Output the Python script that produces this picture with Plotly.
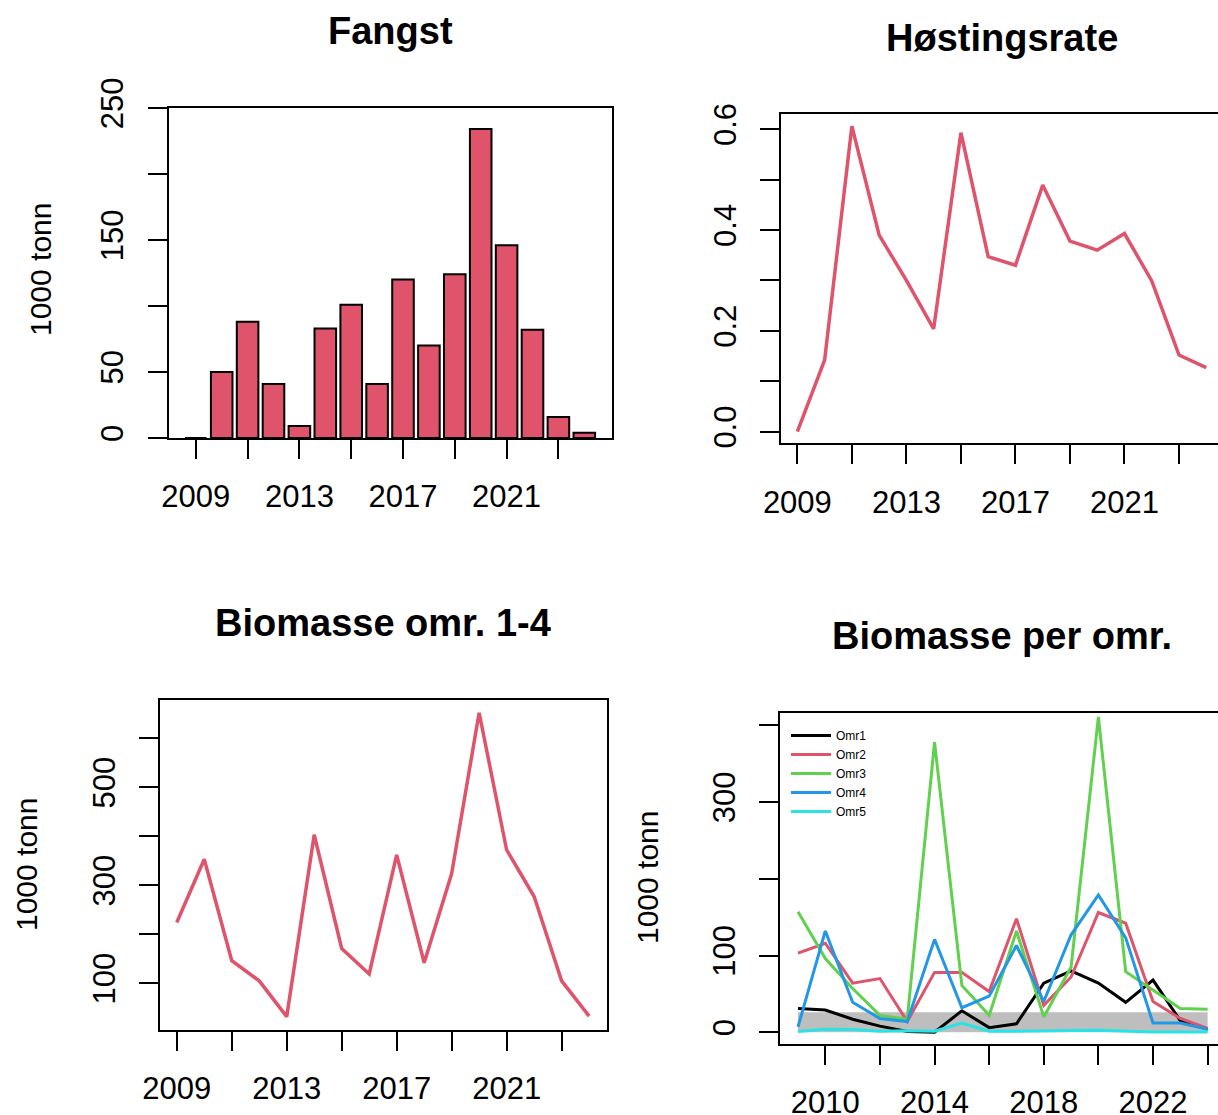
import plotly.graph_objects as go

# ---------------- data ----------------
years = list(range(2009, 2025))

fangst = [0, 50, 88, 41, 9, 83, 101, 41, 120, 70, 124, 234, 146, 82, 16, 4]
hostingsrate = [0.0, 0.142, 0.606, 0.39, 0.30, 0.204, 0.593, 0.347, 0.33, 0.489,
                0.378, 0.36, 0.393, 0.299, 0.152, 0.127]
biomasse_1_4 = [224, 353, 146, 105, 32, 403, 171, 119, 362, 142, 324, 652, 372,
                277, 105, 33]

omr1 = [31, 29, 17, 8, 1, 0, 28, 6, 11, 64, 80, 64, 39, 68, 15, 4]
omr2 = [103, 116, 64, 70, 14, 78, 78, 53, 148, 35, 72, 156, 142, 40, 18, 5]
omr3 = [157, 96, 57, 22, 17, 378, 61, 22, 132, 20, 85, 411, 79, 55, 31, 30]
omr4 = [7, 132, 39, 18, 14, 121, 32, 47, 113, 40, 127, 179, 123, 12, 12, 4]
omr5 = [1, 4, 3.5, 1.3, 2, 1.3, 12, 1.3, 1.3, 1.3, 2.2, 2.6, 1.3, 0.4, 0.4, 0.4]
omr_names = ["Omr1", "Omr2", "Omr3", "Omr4", "Omr5"]

band_years = [2009, 2024]
band_low = 0
band_high = 26

titles = ["Fangst", "Høstingsrate", "Biomasse omr. 1-4", "Biomasse per omr."]
ytitle = "1000 tonn"

ticks_odd = list(range(2009, 2024, 2))
labels_odd = ["2009", "", "2013", "", "2017", "", "2021", ""]
ticks_even = list(range(2010, 2025, 2))
labels_even = ["2010", "", "2014", "", "2018", "", "2022", ""]

y1_ticks = [0, 50, 100, 150, 200, 250]
y1_labels = ["0", "50", "", "150", "", "250"]
y2_ticks = [0.0, 0.1, 0.2, 0.3, 0.4, 0.5, 0.6]
y2_labels = ["0.0", "", "0.2", "", "0.4", "", "0.6"]
y3_ticks = [100, 200, 300, 400, 500, 600]
y3_labels = ["100", "", "300", "", "500", ""]
y4_ticks = [0, 100, 200, 300, 400]
y4_labels = ["0", "100", "", "300", ""]

# ---------------- styling ----------------
RED = "#DF536B"
COLS = ["#000000", "#DF536B", "#61D04F", "#2297E6", "#28E2E5"]
FONT = "Liberation Sans, Arial, sans-serif"
W, H = 1218, 1115

fig = go.Figure()

fig.add_trace(go.Bar(x=years, y=fangst, width=1 / 1.2, marker=dict(color=RED, line=dict(color="black", width=2)),
                     xaxis="x", yaxis="y", showlegend=False))
fig.add_trace(go.Scatter(x=years, y=hostingsrate, mode="lines", line=dict(color=RED, width=3.5),
                         xaxis="x2", yaxis="y2", showlegend=False))
fig.add_trace(go.Scatter(x=years, y=biomasse_1_4, mode="lines", line=dict(color=RED, width=3.5),
                         xaxis="x3", yaxis="y3", showlegend=False))
fig.add_trace(go.Scatter(x=[band_years[0], band_years[1], band_years[1], band_years[0]],
                         y=[band_low, band_low, band_high, band_high], fill="toself",
                         fillcolor="#BEBEBE", mode="lines", line=dict(width=0, color="#BEBEBE"),
                         xaxis="x4", yaxis="y4", showlegend=False, hoverinfo="skip"))
for name, vals, col in zip(omr_names, [omr1, omr2, omr3, omr4, omr5], COLS):
    fig.add_trace(go.Scatter(x=years, y=vals, mode="lines", name=name, line=dict(color=col, width=3),
                             xaxis="x4", yaxis="y4", showlegend=True))


def px_x(a, b):
    return [a / W, b / W]


def px_y(top, bottom):
    return [1 - bottom / H, 1 - top / H]


axis_common = dict(showline=True, linecolor="black", linewidth=2, ticks="outside", ticklen=19,
                   tickwidth=2, tickcolor="black", showgrid=False, zeroline=False, automargin=False,
                   tickfont=dict(family=FONT, size=31, color="black"))

def xa(domain, rng, anchor, tv, tt):
    d = dict(axis_common)
    d.update(domain=domain, range=rng, anchor=anchor, tickmode="array", tickvals=tv, ticktext=tt,
             mirror=True, ticklabelstandoff=11)
    return d

def ya(domain, rng, anchor, tv, tt, mirror):
    d = dict(axis_common)
    d.update(domain=domain, range=rng, anchor=anchor, tickmode="array", tickvals=tv, ticktext=tt,
             mirror=mirror, tickangle=-90, ticklabelstandoff=12)
    return d

p1x, p1y = px_x(168.6, 611.5), px_y(108, 438)
p2x, p2y = px_x(781, 1218), px_y(114, 443.3)
p3x, p3y = px_x(160, 606.7), px_y(700, 1030)
p4x, p4y = px_x(780, 1218), px_y(712.8, 1044)

fig.update_layout(
    template="none",
    width=W, height=H, margin=dict(l=0, r=0, t=0, b=0, autoexpand=False),
    paper_bgcolor="white", plot_bgcolor="white",
    font=dict(family=FONT, color="black"),
    xaxis=xa(p1x, [2007.95, 2025.05], "y", ticks_odd, labels_odd),
    yaxis=ya(p1y, [0, 250], "x", y1_ticks, y1_labels, True),
    xaxis2=xa(p2x, [2008.4, 2024.43], "y2", ticks_odd, labels_odd),
    yaxis2=ya(p2y, [-0.023, 0.63], "x2", y2_ticks, y2_labels, False),
    xaxis3=xa(p3x, [2008.39, 2024.64], "y3", ticks_odd, labels_odd),
    yaxis3=ya(p3y, [4.7, 678], "x3", y3_ticks, y3_labels, True),
    xaxis4=xa(p4x, [2008.34, 2024.38], "y4", ticks_even, labels_even),
    yaxis4=ya(p4y, [-15.3, 416.2], "x4", y4_ticks, y4_labels, False),
    legend=dict(x=786 / W, y=1 - 721 / H, xanchor="left", yanchor="top",
                font=dict(family=FONT, size=12, color="black"), bgcolor="rgba(0,0,0,0)",
                borderwidth=0, tracegroupgap=0, itemwidth=40),
    showlegend=True,
)

title_pos = [(390, 31), (1002, 38), (383, 623), (1002, 636)]
for t, (cx, cy) in zip(titles, title_pos):
    fig.add_annotation(text="<b>" + t + "</b>", x=cx / W, y=1 - cy / H, xref="paper", yref="paper",
                       xanchor="center", yanchor="middle", showarrow=False,
                       font=dict(family=FONT, size=38, color="black"))

for (cx, cy) in [(40, 270), (26, 865), (647, 878)]:
    fig.add_annotation(text=ytitle, x=cx / W, y=1 - cy / H, xref="paper", yref="paper",
                       xanchor="center", yanchor="middle", showarrow=False, textangle=-90,
                       font=dict(family=FONT, size=30, color="black"))

fig.write_html("out.html", config={"displayModeBar": False},
               post_script="document.body.style.margin='0px';document.body.style.overflow='hidden';")
